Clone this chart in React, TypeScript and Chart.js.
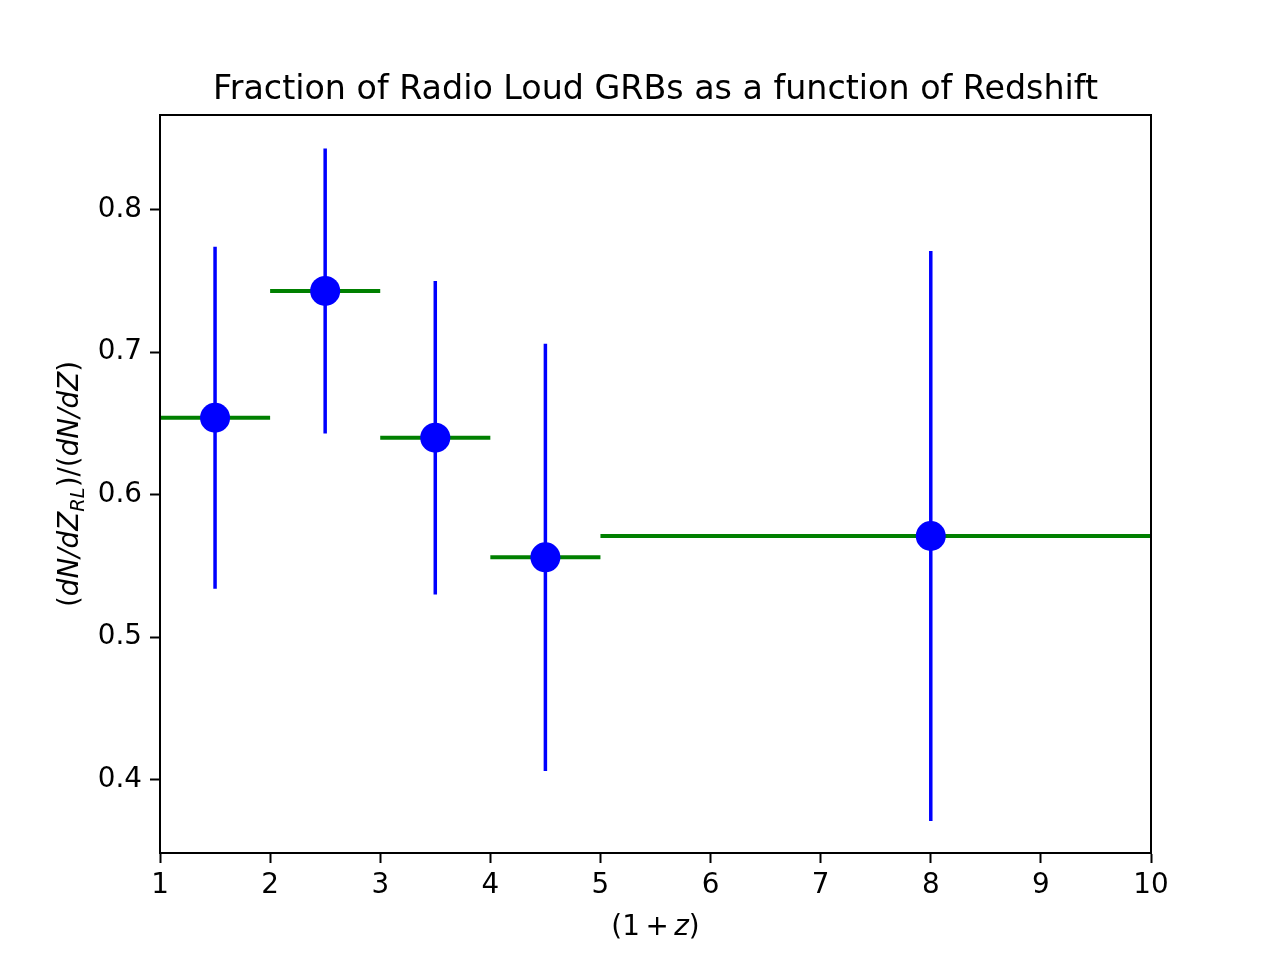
import React, { useEffect, useRef } from "react";
import { Chart, registerables } from "chart.js";

Chart.register(...registerables);

const binEdges = [1, 2, 3, 4, 5, 10];
const binCenters = [1.5, 2.5, 3.5, 4.5, 8];
const fractions = [0.654, 0.743, 0.64, 0.556, 0.571];
const errors = [0.12, 0.1, 0.11, 0.15, 0.2];
const xTicks = [1, 2, 3, 4, 5, 6, 7, 8, 9, 10];
const yTicks = [0.4, 0.5, 0.6, 0.7, 0.8];
const titleText = "Fraction of Radio Loud GRBs as a function of Redshift";

const FS = 27.8;
const UP = `${FS}px "DejaVu Sans"`;
const IT = `italic ${FS}px "DejaVu Sans"`;

type Run = { t: string; f: string; dy?: number };

function drawRuns(ctx: CanvasRenderingContext2D, runs: Run[], cx: number, cy: number) {
  let total = 0;
  for (const r of runs) {
    ctx.font = r.f;
    total += ctx.measureText(r.t).width;
  }
  let x = cx - total / 2;
  ctx.textBaseline = "alphabetic";
  ctx.textAlign = "left";
  for (const r of runs) {
    ctx.font = r.f;
    ctx.fillText(r.t, x, cy + (r.dy || 0));
    x += ctx.measureText(r.t).width;
  }
}

const textLayer = {
  id: "textLayer",
  afterDraw(chart: any) {
    const ctx = chart.ctx as CanvasRenderingContext2D;
    const a = chart.chartArea;
    ctx.save();
    ctx.fillStyle = "#000";
    // title
    ctx.font = `33.3px "DejaVu Sans"`;
    ctx.textAlign = "center";
    ctx.textBaseline = "alphabetic";
    ctx.fillText(titleText, (a.left + a.right) / 2, 99);
    // x label
    drawRuns(
      ctx,
      [
        { t: "(1\u2009+\u2009", f: UP },
        { t: "z", f: IT },
        { t: ")", f: UP },
      ],
      (a.left + a.right) / 2,
      935
    );
    // y label
    ctx.translate(78, (a.top + a.bottom) / 2);
    ctx.rotate(-Math.PI / 2);
    const SUB = `italic ${FS * 0.7}px "DejaVu Sans"`;
    drawRuns(
      ctx,
      [
        { t: "(", f: UP },
        { t: "dN/dZ", f: IT },
        { t: "RL", f: SUB, dy: 6 },
        { t: ")/(", f: UP },
        { t: "dN/dZ", f: IT },
        { t: ")", f: UP },
      ],
      0,
      0
    );
    ctx.restore();
  },
};

const frame = {
  id: "frame",
  afterDatasetsDraw(chart: any) {
    const ctx = chart.ctx as CanvasRenderingContext2D;
    const a = chart.chartArea;
    ctx.save();
    ctx.strokeStyle = "#000";
    ctx.lineWidth = 2;
    ctx.strokeRect(a.left, a.top, a.right - a.left, a.bottom - a.top);
    ctx.restore();
  },
};

export default function App() {
  const ref = useRef<HTMLCanvasElement>(null);
  useEffect(() => {
    if (!ref.current) return;
    const binSets = fractions.map((f, i) => ({
      type: "line" as const,
      data: [
        { x: binEdges[i], y: f },
        { x: binEdges[i + 1], y: f },
      ],
      borderColor: "#008000",
      borderWidth: 4,
      borderCapStyle: "butt" as const,
      pointRadius: 0,
      order: 3,
    }));
    const errSets = fractions.map((f, i) => ({
      type: "line" as const,
      data: [
        { x: binCenters[i], y: f - errors[i] },
        { x: binCenters[i], y: f + errors[i] },
      ],
      borderColor: "#0000ff",
      borderWidth: 3.5,
      borderCapStyle: "butt" as const,
      pointRadius: 0,
      order: 2,
    }));
    const markers = {
      type: "scatter" as const,
      data: fractions.map((f, i) => ({ x: binCenters[i], y: f })),
      backgroundColor: "#0000ff",
      borderColor: "#0000ff",
      borderWidth: 0,
      pointRadius: 15,
      order: 1,
    };
    const chart = new Chart(ref.current, {
      type: "scatter",
      data: { datasets: [...binSets, ...errSets, markers] as any },
      plugins: [frame, textLayer],
      options: {
        animation: false,
        responsive: false,
        events: [],
        layout: { padding: { left: 0, right: 129, top: 115, bottom: 0 } },
        plugins: {
          legend: { display: false },
          tooltip: { enabled: false },
          title: { display: false },
        },
        scales: {
          x: {
            type: "linear",
            min: 1,
            max: 10,
            afterBuildTicks: (s: any) => {
              s.ticks = xTicks.map((v) => ({ value: v }));
            },
            afterFit: (s: any) => {
              s.height = 107;
            },
            grid: { drawOnChartArea: false, drawTicks: true, tickLength: 10, tickColor: "#000", tickWidth: 2 },
            border: { display: true, color: "#000", width: 2 },
            ticks: {
              color: "#000",
              font: { family: "DejaVu Sans", size: FS },
              padding: 6,
              maxRotation: 0,
              callback: (v: any) => String(v),
            },
          },
          y: {
            type: "linear",
            min: 0.3485,
            max: 0.8665,
            afterBuildTicks: (s: any) => {
              s.ticks = yTicks.map((v) => ({ value: v }));
            },
            afterFit: (s: any) => {
              s.width = 160;
            },
            grid: { drawOnChartArea: false, drawTicks: true, tickLength: 10, tickColor: "#000", tickWidth: 2 },
            border: { display: true, color: "#000", width: 2 },
            ticks: {
              color: "#000",
              font: { family: "DejaVu Sans", size: FS },
              padding: 8,
              callback: (v: any) => Number(v).toFixed(1),
            },
          },
        },
      },
    });
    return () => chart.destroy();
  }, []);
  return (
    <div style={{ position: "absolute", left: 0, top: 0, width: 1280, height: 960, background: "#fff" }}>
      <canvas ref={ref} width={1280} height={960} />
    </div>
  );
}
